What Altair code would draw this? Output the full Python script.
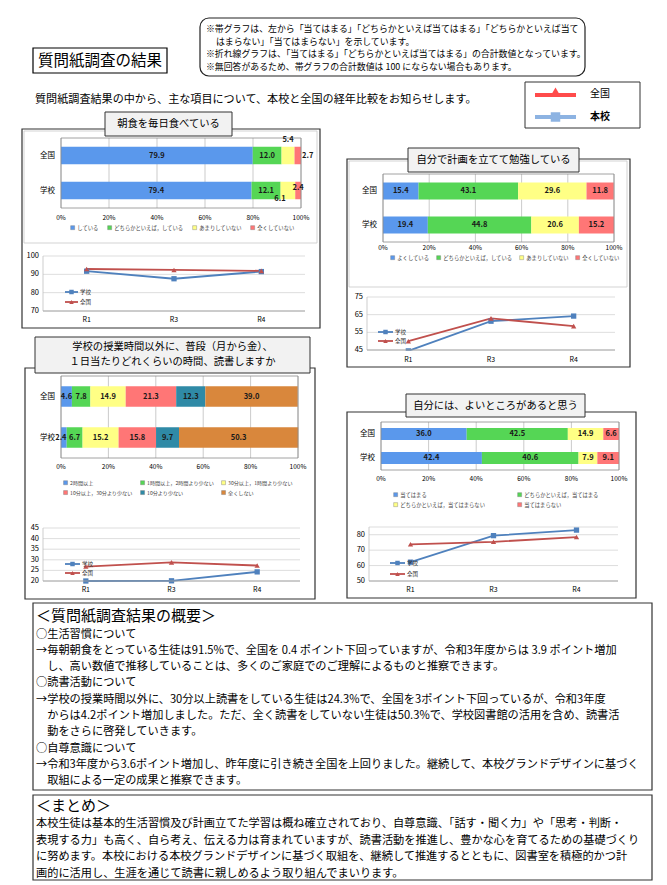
import altair as alt
import pandas as pd

FONT = "Noto Sans CJK JP"
GROUPS = ["全国", "学校"]
YEARS = ["R1", "R3", "R4"]
SERIES = ["学校", "全国"]
pct_ticks = [0, 20, 40, 60, 80, 100]

# --- 朝食を毎日食べている
q1_title = "朝食を毎日食べている"
q1_cats = ["している", "どちらかといえば，している", "あまりしていない", "全くしていない"]
q1_nat = [79.9, 12.0, 5.4, 2.7]
q1_sch = [79.4, 12.1, 6.1, 2.4]
q1_trend_sch = [91.7, 87.6, 91.5]
q1_trend_nat = [92.9, 92.4, 91.9]
q1_ticks = [70, 80, 90, 100]

# --- 自分で計画を立てて勉強している
q2_title = "自分で計画を立てて勉強している"
q2_cats = ["よくしている", "どちらかといえば，している", "あまりしていない", "全くしていない"]
q2_nat = [15.4, 43.1, 29.6, 11.8]
q2_sch = [19.4, 44.8, 20.6, 15.2]
q2_trend_sch = [44.5, 61.3, 64.2]
q2_trend_nat = [50.0, 62.9, 58.5]
q2_ticks = [45, 55, 65, 75]

# --- 読書時間
q3_title = ["学校の授業時間以外に、普段（月から金）、", "１日当たりどれくらいの時間、読書しますか"]
q3_cats = ["2時間以上", "1時間以上，2時間より少ない", "30分以上，1時間より少ない",
           "10分以上，30分より少ない", "10分より少ない", "全くしない"]
q3_nat = [4.6, 7.8, 14.9, 21.3, 12.3, 39.0]
q3_sch = [2.4, 6.7, 15.2, 15.8, 9.7, 50.3]
q3_trend_sch = [20.0, 20.1, 24.3]
q3_trend_nat = [26.8, 28.8, 27.3]
q3_ticks = [20, 25, 30, 35, 40, 45]

# --- 自分には、よいところがあると思う
q4_title = "自分には、よいところがあると思う"
q4_cats = ["当てはまる", "どちらかといえば，当てはまる", "どちらかといえば，当てはまらない", "当てはまらない"]
q4_nat = [36.0, 42.5, 14.9, 6.6]
q4_sch = [42.4, 40.6, 7.9, 9.1]
q4_trend_sch = [62.2, 79.4, 83.0]
q4_trend_nat = [73.8, 75.4, 78.5]
q4_ticks = [50, 60, 70, 80]
q4_grid = [50, 60, 70, 80, 85]

page_title = "質問紙調査の結果"
notes = [
    "※帯グラフは、左から「当てはまる」「どちらかといえば当てはまる」「どちらかといえば当て",
    "はまらない」「当てはまらない」を示しています。",
    "※折れ線グラフは、「当てはまる」「どちらかといえば当てはまる」の合計数値となっています。",
    "※無回答があるため、帯グラフの合計数値は 100 にならない場合もあります。",
]
subtitle = "質問紙調査結果の中から、主な項目について、本校と全国の経年比較をお知らせします。"
legend_names = ["全国", "本校"]

summary_title = "＜質問紙調査結果の概要＞"
summary_lines = [
    ("○生活習慣について", 0),
    ("→毎朝朝食をとっている生徒は91.5%で、全国を 0.4 ポイント下回っていますが、令和3年度からは 3.9 ポイント増加", 0),
    ("し、高い数値で推移していることは、多くのご家庭でのご理解によるものと推察できます。", 1),
    ("○読書活動について", 0),
    ("→学校の授業時間以外に、30分以上読書をしている生徒は24.3%で、全国を3ポイント下回っているが、令和3年度", 0),
    ("からは4.2ポイント増加しました。ただ、全く読書をしていない生徒は50.3%で、学校図書館の活用を含め、読書活", 1),
    ("動をさらに啓発していきます。", 1),
    ("○自尊意識について", 0),
    ("→令和3年度から3.6ポイント増加し、昨年度に引き続き全国を上回りました。継続して、本校グランドデザインに基づく", 0),
    ("取組による一定の成果と推察できます。", 1),
]
matome_title = "＜まとめ＞"
matome_lines = [
    "本校生徒は基本的生活習慣及び計画立てた学習は概ね確立されており、自尊意識、「話す・聞く力」や「思考・判断・",
    "表現する力」も高く、自ら考え、伝える力は育まれていますが、読書活動を推進し、豊かな心を育てるための基礎づくり",
    "に努めます。本校における本校グランドデザインに基づく取組を、継続して推進するとともに、図書室を積極的かつ計",
    "画的に活用し、生涯を通じて読書に親しめるよう取り組んでまいります。",
]

C4 = ["#5A98EC", "#55D655", "#FFFF85", "#FF7676"]
C6 = ["#5A98EC", "#55D655", "#FFFF85", "#FF7676", "#2F8AA6", "#D9873C"]
BLUE = "#4F81BD"
RED = "#C0504D"
TITLE_FILL = "#f2f2f2"

dummy = pd.DataFrame({"k": [0]})


def txt(s, x, y, size, align="left", weight="normal", color="#000"):
    return alt.Chart(dummy).mark_text(
        text=s, align=align, baseline="middle", fontSize=size, fontWeight=weight, color=color, font=FONT
    ).encode(x=alt.value(x), y=alt.value(y))


def box(x1, y1, x2, y2, stroke="#222", sw=1.0, fill="#ffffff", fo=0.0, r=0):
    return alt.Chart(dummy).mark_rect(
        stroke=stroke, strokeWidth=sw, fill=fill, fillOpacity=fo, cornerRadius=r
    ).encode(x=alt.value(x1), x2=alt.value(x2), y=alt.value(y1), y2=alt.value(y2))


def seg(x1, x2, y, color, sw):
    return alt.Chart(dummy).mark_rule(color=color, strokeWidth=sw).encode(
        x=alt.value(x1), x2=alt.value(x2), y=alt.value(y))


def vseg(x, y1, y2, color, sw):
    return alt.Chart(dummy).mark_rule(color=color, strokeWidth=sw).encode(
        x=alt.value(x), y=alt.value(y1), y2=alt.value(y2))


def pt(x, y, shape, color, size):
    return alt.Chart(dummy).mark_point(shape=shape, filled=True, color=color, size=size, opacity=1).encode(
        x=alt.value(x), y=alt.value(y))


def bar_df(cats, nat, sch):
    rows = []
    for g, vals in ((GROUPS[0], nat), (GROUPS[1], sch)):
        for i, (c, v) in enumerate(zip(cats, vals)):
            rows.append({"group": g, "cat": c, "order": i, "value": v})
    return pd.DataFrame(rows)


def leg_kw(x, y, cols, cpad, font=5.3):
    return dict(orient="none", legendX=x, legendY=y, direction="horizontal", columns=cols, title=None,
                symbolType="square", symbolSize=16, labelFontSize=font, labelColor="#444",
                columnPadding=cpad, rowPadding=3, labelOffset=2, symbolStrokeWidth=0.4,
                symbolStrokeColor="#777", labelLimit=300)


def bar_layers(cats, nat, sch, colors, px, py, leg, adjust, ylab_x, xlab_y):
    x0, x1 = px
    y0, y1 = py
    df = bar_df(cats, nat, sch)
    xs = alt.Scale(domain=[0, 100], range=[x0, x1], nice=False, zero=False)
    ys = alt.Scale(domain=GROUPS, range=[y0, y1], paddingInner=0.5, paddingOuter=0.25)
    tick_df = pd.DataFrame({"t": pct_ticks})
    grid = alt.Chart(tick_df).mark_rule(color="#b4b4b4", strokeWidth=0.7).encode(
        x=alt.X("t:Q", scale=xs, axis=None), y=alt.value(y0), y2=alt.value(y1))
    tlab = alt.Chart(tick_df).transform_calculate(lab="datum.t + '%'").mark_text(
        fontSize=6.5, baseline="middle", color="#000").encode(
        x=alt.X("t:Q", scale=xs, axis=None), y=alt.value(xlab_y), text="lab:N")
    glab = alt.Chart(pd.DataFrame({"group": GROUPS})).mark_text(
        fontSize=7.5, align="right", baseline="middle", color="#000").encode(
        y=alt.Y("group:N", scale=ys, axis=None), x=alt.value(ylab_x), text="group:N")
    base = alt.Chart(df).transform_stack(
        as_=["x0", "x1"], stack="value", groupby=["group"],
        sort=[alt.SortField("order", order="ascending")]
    ).transform_calculate(mid="(datum.x0 + datum.x1) / 2")
    yenc = alt.Y("group:N", scale=ys, axis=None)
    bars = base.mark_bar().encode(
        x=alt.X("x0:Q", scale=xs, axis=None), x2="x1:Q", y=yenc,
        color=alt.Color("cat:N", scale=alt.Scale(domain=cats, range=colors), legend=alt.Legend(**leg)),
    )
    tenc = dict(x=alt.X("mid:Q", scale=xs, axis=None), y=yenc, text=alt.Text("value:Q", format=".1f"))
    mk = dict(fontSize=7.5, fontWeight="bold", color="#1a1a1a")
    layers = [grid, bars, box(x0, y0, x1, y1, stroke="#8c8c8c", sw=0.8), tlab, glab]
    if adjust:
        conds = " || ".join(f"(datum.group == '{g}' && datum.cat == '{c}')" for (g, c, dx, dy) in adjust)
        layers.append(base.mark_text(**mk).transform_filter(f"!({conds})").encode(**tenc))
        for g, c, dx, dy in adjust:
            layers.append(base.mark_text(dx=dx, dy=dy, **mk)
                          .transform_filter(f"datum.group == '{g}' && datum.cat == '{c}'").encode(**tenc))
    else:
        layers.append(base.mark_text(**mk).encode(**tenc))
    return layers


def line_layers(sch, nat, domain, grid_ticks, lab_ticks, px, py, ylab_x, xlab_y, leg, mask=None):
    x0, x1 = px
    y0, y1 = py  # top, bottom
    df = pd.DataFrame({"year": YEARS * 2, "series": [SERIES[0]] * 3 + [SERIES[1]] * 3,
                       "value": list(sch) + list(nat)})
    xs = alt.Scale(type="point", domain=YEARS, range=[x0, x1], padding=0.5)
    ys = alt.Scale(domain=domain, range=[y1, y0], nice=False, zero=False)
    grid = alt.Chart(pd.DataFrame({"t": grid_ticks})).mark_rule(color="#d4d4d4", strokeWidth=0.8).encode(
        y=alt.Y("t:Q", scale=ys, axis=None), x=alt.value(x0), x2=alt.value(x1))
    ylab = alt.Chart(pd.DataFrame({"t": lab_ticks})).mark_text(
        fontSize=7.5, align="right", baseline="middle", color="#000").encode(
        y=alt.Y("t:Q", scale=ys, axis=None), x=alt.value(ylab_x), text="t:Q")
    xlab = alt.Chart(pd.DataFrame({"year": YEARS})).mark_text(
        fontSize=7, baseline="middle", color="#000").encode(
        x=alt.X("year:N", scale=xs, axis=None), y=alt.value(xlab_y), text="year:N")
    color = alt.Color("series:N", scale=alt.Scale(domain=SERIES, range=[BLUE, RED]), legend=None)
    shape = alt.Shape("series:N", scale=alt.Scale(domain=SERIES, range=["square", "triangle-up"]), legend=None)
    enc = dict(x=alt.X("year:N", scale=xs, axis=None), y=alt.Y("value:Q", scale=ys, axis=None), color=color)
    lines = alt.Chart(df).mark_line(strokeWidth=1.8).encode(**enc)
    pts = alt.Chart(df).mark_point(filled=True, opacity=1, size=28).encode(shape=shape, **enc)
    layers = [grid, lines, pts]
    if mask:
        layers.append(box(mask[0], y1 + 0.8, mask[1], y1 + 7, stroke="#ffffff", sw=0, fill="#ffffff", fo=1))
    layers += [vseg(x0, y0, y1, "#c0c0c0", 0.8), seg(x0, x1, y1, "#a0a0a0", 0.9), ylab, xlab]
    lx0, lx1, tx, ly0, ly1 = leg
    mx = (lx0 + lx1) / 2
    layers += [
        seg(lx0, lx1, ly0, BLUE, 1.8), pt(mx, ly0, "square", BLUE, 20), txt(SERIES[0], tx, ly0, 5.5, color="#333"),
        seg(lx0, lx1, ly1, RED, 1.8), pt(mx, ly1, "triangle-up", RED, 20), txt(SERIES[1], tx, ly1, 5.5, color="#333"),
    ]
    return layers


layers = []

# ---------------- header
layers += [
    box(25, 40, 159, 65, stroke="#000", sw=1.2),
    txt(page_title, 92, 52.5, 15.5, align="center"),
    box(192, 10, 577, 68, stroke="#222", sw=1.2, r=9),
    txt(notes[0], 198, 21, 8.9),
    txt(notes[1], 208, 33.5, 8.9),
    txt(notes[2], 198, 46, 8.9),
    txt(notes[3], 198, 58.5, 8.9),
    txt(subtitle, 27, 92, 11.1),
    box(517, 74, 632, 120, stroke="#333", sw=1),
    seg(527, 568, 87, "#FF4B4B", 4),
    pt(547.5, 84, "triangle-up", "#FF4B4B", 110),
    txt(legend_names[0], 582, 86, 10),
    seg(527, 568, 109, "#8DB3E2", 4),
    pt(547.5, 109, "square", "#8DB3E2", 90),
    txt(legend_names[1], 582, 109, 10, weight="bold"),
]

# ---------------- panel 1
layers += [box(14, 121, 312, 320, stroke="#333", sw=1.2), box(16, 123, 309, 235, stroke="#c8c8c8", sw=0.8)]
layers += bar_layers(
    q1_cats, q1_nat, q1_sch, C4, (53, 293), (130, 200), leg_kw(62, 217, 4, 7),
    [(GROUPS[0], q1_cats[2], 0, -16), (GROUPS[0], q1_cats[3], 10, 0),
     (GROUPS[1], q1_cats[2], -8, 8), (GROUPS[1], q1_cats[3], 0, -3)],
    47, 210)
layers += line_layers(q1_trend_sch, q1_trend_nat, [70, 100], q1_ticks, q1_ticks,
                      (35, 297), (248, 303), 31, 312, (57, 70, 72, 284, 294))
layers += [box(97, 104, 224, 128, stroke="#333", sw=1, fill=TITLE_FILL, fo=1),
           txt(q1_title, 160.5, 116, 10.3, align="center")]

# ---------------- panel 2
layers += [box(339, 151, 622, 359, stroke="#333", sw=1.2), box(341, 153, 619, 279, stroke="#c8c8c8", sw=0.8)]
layers += bar_layers(q2_cats, q2_nat, q2_sch, C4, (375, 606), (166, 234), leg_kw(382, 247, 4, 5), [], 369, 240)
layers += line_layers(q2_trend_sch, q2_trend_nat, [45, 75], q2_ticks, q2_ticks,
                      (359, 607), (289, 342), 355, 352, (370, 385, 387, 324, 333), mask=(390, 411))
layers += [box(400, 140, 571, 164, stroke="#333", sw=1, fill=TITLE_FILL, fo=1),
           txt(q2_title, 485.5, 152, 10.3, align="center")]

# ---------------- panel 3
layers += [box(17, 360, 307, 591, stroke="#333", sw=1.2)]
layers += bar_layers(q3_cats, q3_nat, q3_sch, C6, (53, 290), (368, 450), leg_kw(55, 472, 3, 6, 5.1),
                     [(GROUPS[1], q3_cats[0], -3, 0)], 47, 459)
layers += line_layers(q3_trend_sch, q3_trend_nat, [20, 45], q3_ticks, q3_ticks,
                      (35, 292), (520, 573), 31, 582, (57, 72, 74, 556, 565))
layers += [box(27, 329, 302, 365, stroke="#333", sw=1, fill=TITLE_FILL, fo=1),
           txt(q3_title[0], 164.5, 339, 10.3, align="center"),
           txt(q3_title[1], 164.5, 354, 10.3, align="center")]

# ---------------- panel 4
layers += [box(339, 404, 628, 590, stroke="#333", sw=1.2)]
layers += bar_layers(q4_cats, q4_nat, q4_sch, C4, (373, 611), (414, 462), leg_kw(385, 484, 2, 30), [], 367, 471)
layers += line_layers(q4_trend_sch, q4_trend_nat, [50, 85], q4_grid, q4_ticks,
                      (361, 610), (519, 573), 357, 582, (382, 397, 399, 555, 566))
layers += [box(398, 386, 577, 409, stroke="#333", sw=1, fill=TITLE_FILL, fo=1),
           txt(q4_title, 487.5, 398, 10.3, align="center")]

# ---------------- footer
FS = 11.2
layers += [box(25, 595, 644, 782, stroke="#333", sw=1.2), txt(summary_title, 28, 608, 15)]
for k, (s, ind) in enumerate(summary_lines):
    layers.append(txt(s, 28 + FS * ind, 626.5 + 16.3 * k, FS))
layers += [box(25, 787, 644, 872, stroke="#333", sw=1.2), txt(matome_title, 28, 798, 15)]
for k, s in enumerate(matome_lines):
    layers.append(txt(s, 28, 816 + 16.5 * k, FS))

chart = (
    alt.layer(*layers)
    .resolve_scale(x="independent", y="independent", color="independent", shape="independent")
    .properties(width=651, height=873, padding=0)
    .configure(font=FONT)
    .configure_view(stroke=None)
)

chart.save("out.html", embed_options={"renderer": "svg", "actions": False})
